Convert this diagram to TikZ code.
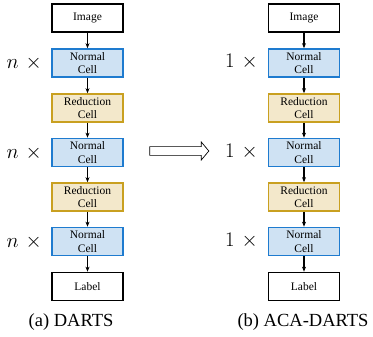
\documentclass[tikz,border=0pt]{standalone}
\usepackage{fontspec}
\setmainfont{Liberation Serif}
\usetikzlibrary{arrows.meta,shapes.arrows}
\definecolor{nblue}{HTML}{CFE2F3}
\definecolor{nblueline}{HTML}{1E7BCF}
\definecolor{rbeige}{HTML}{F3E8CB}
\definecolor{rgold}{HTML}{C9A020}
\begin{document}
\begin{tikzpicture}[x=1pt,y=-1pt,
  cellbox/.style={minimum width=71pt,minimum height=28pt,inner sep=0pt,align=center,font=\fontsize{11.5}{13.5}\selectfont,line width=1.7pt},
  iobox/.style={cellbox,draw=black,fill=white},
  normbox/.style={cellbox,draw=nblueline,fill=nblue},
  redbox/.style={cellbox,draw=rgold,fill=rbeige},
  conn/.style={-{Stealth[length=5pt,width=4pt]},line width=1.2pt},
  mult/.style={font=\fontsize{21}{23}\selectfont,anchor=east,inner sep=0pt},
  captext/.style={font=\fontsize{18.5}{20}\selectfont}]
\useasboundingbox (0,0) rectangle (373,337);
\foreach \c/\x in {a/87.5,b/304}{
  \node[iobox] (\c0) at (\x,18) {Image};
  \node[normbox] (\c1) at (\x,63) {Normal\\Cell};
  \node[redbox] (\c2) at (\x,108) {Reduction\\Cell};
  \node[normbox] (\c3) at (\x,152.5) {Normal\\Cell};
  \node[redbox] (\c4) at (\x,197) {Reduction\\Cell};
  \node[normbox] (\c5) at (\x,241.5) {Normal\\Cell};
  \node[iobox] (\c6) at (\x,286.5) {Label};
  \draw[conn] (\c0) -- (\c1);
  \draw[conn] (\c1) -- (\c2);
  \draw[conn] (\c2) -- (\c3);
  \draw[conn] (\c3) -- (\c4);
  \draw[conn] (\c4) -- (\c5);
  \draw[conn] (\c5) -- (\c6);
}
\node[mult] (ma1) at (42,63.5) {$n\mskip6mu\times$};
\node[mult] (ma3) at (42,153) {$n\mskip6mu\times$};
\node[mult] (ma5) at (42,242) {$n\mskip6mu\times$};
\node[mult] (mb1) at (258,62) {$1\mskip6mu\times$};
\node[mult] (mb3) at (258,151.5) {$1\mskip6mu\times$};
\node[mult] (mb5) at (258,240.5) {$1\mskip6mu\times$};
\node[captext] (capa) at (71,322) {(a) DARTS};
\node[captext] (capb) at (303,322) {(b) ACA-DARTS};
\node[single arrow,draw=black,fill=white,line width=0.7pt,minimum height=59pt,minimum width=18pt,single arrow head extend=3pt,single arrow tip angle=100,inner sep=2.5pt] (mid) at (177.5,151) {};
\end{tikzpicture}
\end{document}
